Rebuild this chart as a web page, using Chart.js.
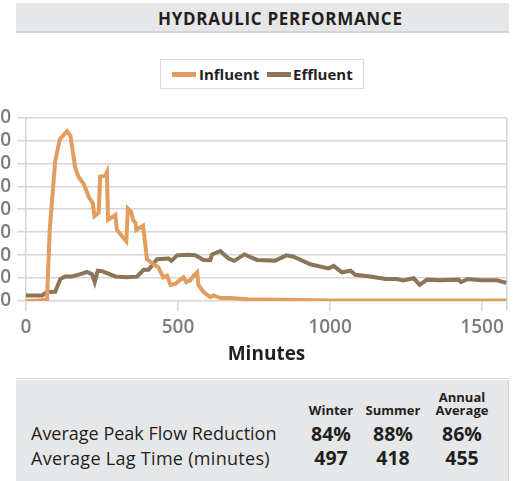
<!DOCTYPE html>
<html>
<head>
<meta charset="utf-8">
<script src="https://cdn.jsdelivr.net/npm/chart.js@4"></script>
<style>
  body { margin: 0; width: 514px; height: 481px; position: relative; overflow: hidden; background: #fff; font-family: "Open Sans", sans-serif; color: #231f20; }
  .abs { position: absolute; white-space: nowrap; }
  #titleBar { left: 16px; top: 3px; width: 493px; height: 28px; background: #e6e7e8; border-bottom: 2px solid #d2d3d4; }
  #title { left: 158px; top: 9px; font-size: 17px; font-weight: 700; letter-spacing: 0.7px; line-height: 20px; }
  #legend { left: 160px; top: 59px; width: 202px; height: 28px; border: 1px solid #dcdcdc; background: #fff; }
  .sw { position: absolute; width: 24px; height: 5px; top: 12px; }
  .lg { position: absolute; top: 3px; font-size: 15px; font-weight: 700; line-height: 22px; }
  #chart { position: absolute; left: -30px; top: 100px; }
  #sep { left: 16px; top: 378px; width: 493px; height: 1px; background: #d8d8d8; }
  #box { left: 16px; top: 380px; width: 492px; height: 101px; background: #e6e7e8; border-right: 1px solid #d2d3d4; }
  .hd { font-size: 13px; font-weight: 700; line-height: 13px; text-align: center; width: 70px; }
  .row { font-size: 18px; line-height: 24px; }
  .val { font-size: 19.5px; font-weight: 700; line-height: 24px; text-align: center; width: 70px; }
</style>
</head>
<body>
<div class="abs" id="titleBar"></div>
<div class="abs" id="title">HYDRAULIC PERFORMANCE</div>
<div class="abs" id="legend"></div>
<canvas id="chart" width="544" height="275"></canvas>
<div class="abs" id="sep"></div>
<div class="abs" id="box"></div>
<div id="table"></div>
<script>
const seriesNames = ['Influent', 'Effluent'];
const seriesColors = ['#e39d5e', '#8b7457'];

const influentMinutes = [0, 40, 69, 78, 96, 111, 135, 146, 162, 173, 190, 206, 220, 225, 239, 244, 261, 266, 270, 283, 294, 299, 316, 330, 335, 346, 352, 360, 363, 385, 398, 420, 436, 451, 464, 475, 491, 518, 527, 540, 551, 563, 567, 584, 606, 617, 639, 672, 727, 837, 1001, 1580];
const influentFlow = [0, 0.2, 0.5, 31, 61, 70.4, 74, 72, 58, 54, 51, 45.4, 42.5, 37, 38.5, 54.2, 54.5, 56, 35.4, 36.5, 37.5, 31, 28.2, 26, 40.3, 38.9, 35.4, 34, 31, 32.8, 18.2, 16, 14.6, 10.3, 11, 7, 7.5, 10.3, 8.2, 9, 11, 12.5, 7, 3.9, 1.7, 2.4, 1.3, 1.3, 0.8, 0.5, 0.2, 0.2];

const effluentMinutes = [0, 53, 69, 96, 113, 129, 151, 179, 201, 217, 226, 236, 250, 294, 332, 365, 387, 403, 431, 469, 478, 497, 529, 557, 584, 606, 612, 639, 666, 685, 718, 760, 820, 856, 880, 935, 995, 1012, 1039, 1067, 1083, 1133, 1182, 1220, 1240, 1275, 1295, 1319, 1363, 1423, 1431, 1453, 1495, 1549, 1580];
const effluentFlow = [2.4, 2.4, 3.9, 4.0, 9.6, 10.7, 10.7, 11.7, 12.7, 11.7, 8.2, 13.2, 13, 10.7, 10.3, 10.6, 13.6, 13.6, 18.2, 18.5, 17.5, 19.9, 20.2, 19.9, 17.9, 17.8, 20.3, 21.8, 18.5, 17.5, 20.3, 17.9, 17.6, 19.9, 19.3, 16.0, 14.2, 15.3, 12.5, 13.2, 11.4, 10.7, 9.6, 9.6, 9.0, 9.9, 7.0, 9.3, 9.0, 9.3, 8.2, 9.6, 9.0, 9.0, 7.9];

const xTicks = [0, 500, 1000, 1500];
const xMax = 1582;
const yTicks = [0, 10, 20, 30, 40, 50, 60, 70, 80];

const tableSeasons = ['Winter', 'Summer', 'Annual\nAverage'];
const tableRows = ['Average Peak Flow Reduction', 'Average Lag Time (minutes)'];
const peakReduction = ['84%', '88%', '86%'];
const lagTime = ['497', '418', '455'];

// legend
const legendEl = document.getElementById('legend');
const legendX = [[11, 38], [106, 132]];
seriesNames.forEach((name, i) => {
  legendEl.innerHTML += `<div class="sw" style="left:${legendX[i][0]}px;background:${seriesColors[i]}"></div>` +
    `<div class="lg" style="left:${legendX[i][1]}px">${name}</div>`;
});

// table
const tableEl = document.getElementById('table');
const colX = [331, 393, 462];
let html = '';
tableSeasons.forEach((s, i) => {
  const lines = s.split('\n');
  const top = 404 - (lines.length - 1) * 13;
  html += `<div class="abs hd" style="left:${colX[i] - 35}px;top:${top}px">${lines.join('<br>')}</div>`;
});
html += `<div class="abs row" style="left:31px;top:421px">${tableRows[0]}</div>`;
html += `<div class="abs row" style="left:31px;top:446px;letter-spacing:0.3px">${tableRows[1]}</div>`;
peakReduction.forEach((v, i) => {
  html += `<div class="abs val" style="left:${colX[i] - 35}px;top:422px">${v}</div>`;
});
lagTime.forEach((v, i) => {
  html += `<div class="abs val" style="left:${colX[i] - 35}px;top:446px">${v}</div>`;
});
tableEl.innerHTML = html;

function toPoints(xs, ys) {
  return xs.map((x, i) => ({ x: x, y: ys[i] }));
}

const gridGray = '#d6d6d6';
const tickFont = { family: 'Open Sans', size: 19, weight: '600' };

new Chart(document.getElementById('chart'), {
  type: 'line',
  data: {
    datasets: [
      { label: seriesNames[0], data: toPoints(influentMinutes, influentFlow), borderColor: seriesColors[0], borderWidth: 4, pointRadius: 0, tension: 0 },
      { label: seriesNames[1], data: toPoints(effluentMinutes, effluentFlow), borderColor: seriesColors[1], borderWidth: 4, pointRadius: 0, tension: 0 }
    ]
  },
  options: {
    responsive: false,
    animation: false,
    devicePixelRatio: 1,
    layout: { padding: { top: 15, right: 7, left: 0, bottom: 0 } },
    plugins: { legend: { display: false }, tooltip: { enabled: false } },
    scales: {
      x: {
        type: 'linear',
        min: 0,
        max: xMax,
        afterFit: s => { s.height = 74; },
        afterBuildTicks: s => { s.ticks = xTicks.concat([xMax]).map(v => ({ value: v })); },
        ticks: {
          autoSkip: false,
          maxRotation: 0,
          padding: 5,
          color: '#7d7d7d',
          font: tickFont,
          callback: v => xTicks.includes(v) ? String(v) : ''
        },
        grid: {
          color: c => (c.tick && (c.tick.value === 0 || c.tick.value === xMax)) ? gridGray : 'transparent',
          tickColor: gridGray,
          tickLength: 10,
          lineWidth: 1.5
        },
        border: { display: false },
        title: {
          display: true,
          text: 'Minutes',
          color: '#231f20',
          font: { family: 'Open Sans', size: 19, weight: '700' },
          padding: { top: 0, bottom: 9 }
        }
      },
      y: {
        min: 0,
        max: yTicks[yTicks.length - 1],
        afterFit: s => { s.width = 56; },
        afterBuildTicks: s => { s.ticks = yTicks.map(v => ({ value: v })); },
        ticks: { autoSkip: false, padding: 6, color: '#7d7d7d', font: tickFont },
        grid: { color: gridGray, tickLength: 9, lineWidth: 1.5 },
        border: { display: false }
      }
    }
  }
});
</script>
</body>
</html>
